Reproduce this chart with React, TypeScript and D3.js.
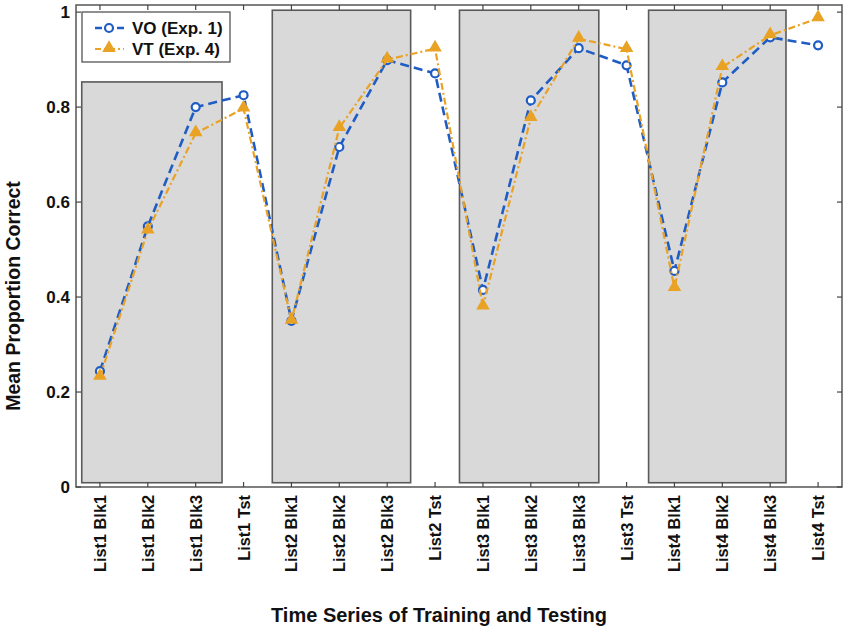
import * as d3 from "d3";

const categories = [
  "List1 Blk1", "List1 Blk2", "List1 Blk3", "List1 Tst",
  "List2 Blk1", "List2 Blk2", "List2 Blk3", "List2 Tst",
  "List3 Blk1", "List3 Blk2", "List3 Blk3", "List3 Tst",
  "List4 Blk1", "List4 Blk2", "List4 Blk3", "List4 Tst",
];

const voValues = [
  0.244, 0.549, 0.8, 0.825, 0.35, 0.716, 0.899, 0.871,
  0.415, 0.814, 0.924, 0.888, 0.455, 0.852, 0.947, 0.93,
];

const vtValues = [
  0.232, 0.54, 0.745, 0.797, 0.35, 0.756, 0.9, 0.923,
  0.38, 0.777, 0.944, 0.922, 0.419, 0.884, 0.951, 0.987,
];

// training blocks (shaded), in x positions / y values
const blockStart = [0.62, 4.6, 8.51, 12.46];
const blockEnd = [3.55, 7.49, 11.42, 15.33];
const blockTop = [0.853, 1.004, 1.004, 1.004];
const blockBottom = 0.009;

const yTicks = [0, 0.2, 0.4, 0.6, 0.8, 1];

const seriesNames = ["VO (Exp. 1)", "VT (Exp. 4)"];

const width = 850;
const height = 633;
const marginLeft = 76;
const marginRight = 8;
const marginTop = 5;
const marginBottom = 146;

const blue = "#1f5cc4";
const orange = "#e9a224";
const font = "Arial, 'Liberation Sans', sans-serif";

export default function App() {
  const x = d3.scaleLinear([0.5, 16.5], [marginLeft, width - marginRight]);
  const y = d3.scaleLinear([0, 1.015], [height - marginBottom, marginTop]);

  const line = d3
    .line<number>()
    .x((d, i) => x(i + 1))
    .y((d) => y(d));

  const tri = d3.symbol(d3.symbolTriangle, 52)()!;

  const x0 = x.range()[0];
  const x1 = x.range()[1];
  const yb = y.range()[0];
  const yt = y.range()[1];

  return (
    <svg
      width={width}
      height={height}
      style={{ position: "absolute", left: 0, top: 0, background: "white" }}
      fontFamily={font}
      fontWeight="bold"
    >
      {/* training blocks */}
      {blockStart.map((s, i) => (
        <rect
          key={i}
          x={x(s)}
          y={y(blockTop[i])}
          width={x(blockEnd[i]) - x(s)}
          height={y(blockBottom) - y(blockTop[i])}
          fill="#d9d9d9"
          stroke="#5a5a5a"
          strokeWidth={1.6}
        />
      ))}

      {/* axes box */}
      <rect x={x0} y={yt} width={x1 - x0} height={yb - yt} fill="none" stroke="#555" strokeWidth={1.5} />

      {/* y ticks */}
      {yTicks.map((t) => (
        <g key={t} transform={`translate(0,${y(t)})`}>
          <line x1={x0} x2={x0 + 5} stroke="#444" strokeWidth={1.2} />
          <line x1={x1} x2={x1 - 5} stroke="#444" strokeWidth={1.2} />
          <text x={x0 - 6} dy="0.36em" textAnchor="end" fontSize={17} fill="#111">
            {String(t)}
          </text>
        </g>
      ))}

      {/* x ticks */}
      {categories.map((c, i) => (
        <g key={c} transform={`translate(${x(i + 1)},0)`}>
          <line y1={yb} y2={yb - 5} stroke="#444" strokeWidth={1.2} />
          <line y1={yt} y2={yt + 5} stroke="#444" strokeWidth={1.2} />
          <text
            transform={`translate(6,${yb + 8}) rotate(-90)`}
            textAnchor="end"
            fontSize={16.3}
            fill="#111"
          >
            {c}
          </text>
        </g>
      ))}

      {/* VO series */}
      <path d={line(voValues)!} fill="none" stroke={blue} strokeWidth={2.6} strokeDasharray="9,5" />
      {voValues.map((v, i) => (
        <circle key={i} cx={x(i + 1)} cy={y(v)} r={4} fill="white" stroke={blue} strokeWidth={2.2} />
      ))}

      {/* VT series */}
      <path
        d={line(vtValues)!}
        fill="none"
        stroke={orange}
        strokeWidth={2.2}
        strokeDasharray="7,3,2,3"
      />
      {vtValues.map((v, i) => (
        <path
          key={i}
          d={tri}
          transform={`translate(${x(i + 1)},${y(v) - 1})`}
          fill={orange}
          stroke={orange}
          strokeWidth={1.5}
        />
      ))}

      {/* legend */}
      <g>
        <rect x={82} y={12} width={148} height={50} fill="white" stroke="#555" strokeWidth={1.3} />
        <line x1={95} x2={124} y1={28} y2={28} stroke={blue} strokeWidth={2.6} strokeDasharray="7,4" />
        <circle cx={109} cy={28} r={4} fill="white" stroke={blue} strokeWidth={2.2} />
        <text x={132} y={28} dy="0.36em" fontSize={17} fill="#111">
          {seriesNames[0]}
        </text>
        <line x1={95} x2={124} y1={49} y2={49} stroke={orange} strokeWidth={2.2} strokeDasharray="6,3,2,3" />
        <path d={tri} transform="translate(109,48)" fill={orange} stroke={orange} strokeWidth={1.5} />
        <text x={132} y={49} dy="0.36em" fontSize={17} fill="#111">
          {seriesNames[1]}
        </text>
      </g>

      {/* axis titles */}
      <text x={439} y={622} textAnchor="middle" fontSize={20} fill="#111">
        Time Series of Training and Testing
      </text>
      <text
        transform={`translate(20,296) rotate(-90)`}
        textAnchor="middle"
        fontSize={19.5}
        fill="#111"
      >
        Mean Proportion Correct
      </text>
    </svg>
  );
}
